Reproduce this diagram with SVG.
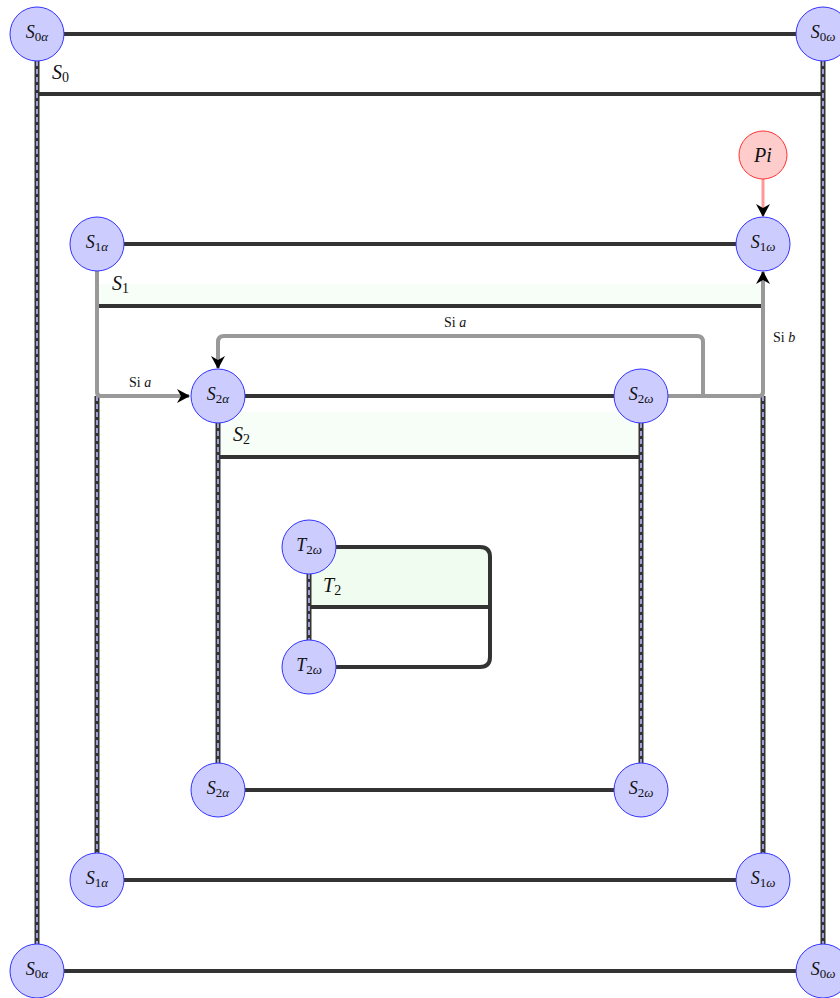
<svg xmlns="http://www.w3.org/2000/svg" width="840" height="998" viewBox="0 0 840 998">
<style>
text{font-family:"Liberation Serif","DejaVu Serif","Times New Roman",serif;fill:#111}
.node{fill:#ccccff;stroke:#3333ff;stroke-width:1}
.pi{fill:#ffcccc;stroke:#ff3333;stroke-width:1}
.lbl{font-size:18px}
.big{font-size:20px}
.small{font-size:14px}
.it{font-style:italic}
.dark{stroke:#333;stroke-width:4;fill:none}
.gray{stroke:#999;stroke-width:4;fill:none}
.dbo{stroke:#333;stroke-width:5;fill:none}
.dbi{stroke:#bbbbff;stroke-width:1.6;stroke-dasharray:5 3;fill:none}
.green{fill:#f7fdf7}
</style>
<defs>
<marker id="arr" viewBox="0 0 14 14" refX="12" refY="7" markerWidth="14" markerHeight="14" markerUnits="userSpaceOnUse" orient="auto">
<path d="M0,0 L13,7 L0,14 L4,7 Z" fill="#000"/>
</marker>
</defs>
<rect width="840" height="998" fill="#fff"/>
<g id="fills">
<rect class="green" x="99" y="284" width="662" height="21"/>
<rect class="green" x="220" y="412" width="419" height="44"/>
<rect fill="#f0fcf0" x="311" y="549" width="177" height="57"/>
</g>
<g id="connectors">
<line class="dark" x1="64" y1="34" x2="796" y2="34"/>
<line class="dark" x1="37" y1="94" x2="823" y2="94"/>
<line class="dark" x1="64" y1="971" x2="796" y2="971"/>
<line class="dbo" x1="37" y1="61" x2="37" y2="944"/>
<line class="dbi" x1="37" y1="61" x2="37" y2="944"/>
<line class="dbo" x1="823" y1="61" x2="823" y2="944"/>
<line class="dbi" x1="823" y1="61" x2="823" y2="944"/>
<line class="dark" x1="124" y1="244" x2="736" y2="244"/>
<line class="dark" x1="97" y1="306" x2="763" y2="306"/>
<line class="dark" x1="124" y1="880" x2="736" y2="880"/>
<line class="dbo" x1="97" y1="396" x2="97" y2="853"/>
<line class="dbi" x1="97" y1="396" x2="97" y2="853"/>
<line class="dbo" x1="763" y1="396" x2="763" y2="853"/>
<line class="dbi" x1="763" y1="396" x2="763" y2="853"/>
<line class="dark" x1="245" y1="396" x2="614" y2="396"/>
<line class="dark" x1="218" y1="457" x2="641" y2="457"/>
<line class="dark" x1="245" y1="790" x2="614" y2="790"/>
<line class="dbo" x1="218" y1="423" x2="218" y2="763"/>
<line class="dbi" x1="218" y1="423" x2="218" y2="763"/>
<line class="dbo" x1="641" y1="423" x2="641" y2="763"/>
<line class="dbi" x1="641" y1="423" x2="641" y2="763"/>
<path class="dark" d="M336,547 H480 Q490,547 490,557 V657 Q490,667 480,667 H336"/>
<line class="dark" x1="309" y1="607" x2="490" y2="607"/>
<line class="dbo" x1="309" y1="574" x2="309" y2="640"/>
<line class="dbi" x1="309" y1="574" x2="309" y2="640"/>
<path class="gray" d="M97,271 V392 Q97,396 101,396 H189" marker-end="url(#arr)"/>
<path class="gray" d="M668,396 H759 Q763,396 763,392 V272" marker-end="url(#arr)"/>
<path class="gray" d="M703,396 V342 Q703,336 697,336 H224 Q218,336 218,342 V368" marker-end="url(#arr)"/>
<line x1="763" y1="179" x2="763" y2="216" stroke="#ff9999" stroke-width="3" marker-end="url(#arr)"/>
<text class="small" x="129" y="387">Si <tspan class="it">a</tspan></text>
<text class="small" x="444" y="327">Si <tspan class="it">a</tspan></text>
<text class="small" x="773" y="342">Si <tspan class="it">b</tspan></text>
</g>
<g id="labels">
<text class="big" x="52" y="79"><tspan class="it">S</tspan><tspan font-size="14" dy="3">0</tspan></text>
<text class="big" x="112" y="290"><tspan class="it">S</tspan><tspan font-size="14" dy="3">1</tspan></text>
<text class="big" x="233" y="441"><tspan class="it">S</tspan><tspan font-size="14" dy="3">2</tspan></text>
<text class="big" x="323" y="592"><tspan class="it">T</tspan><tspan font-size="14" dy="3">2</tspan></text>
</g>
<g id="S0a_top"><circle class="node" cx="37" cy="34" r="27"/><text class="lbl" x="37" y="38" text-anchor="middle"><tspan class="it">S</tspan><tspan font-size="13" dy="3">0</tspan><tspan font-size="13" class="it">α</tspan></text></g>
<g id="S0w_top"><circle class="node" cx="823" cy="34" r="27"/><text class="lbl" x="823" y="38" text-anchor="middle"><tspan class="it">S</tspan><tspan font-size="13" dy="3">0</tspan><tspan font-size="13" class="it">ω</tspan></text></g>
<g id="S0a_bot"><circle class="node" cx="37" cy="971" r="27"/><text class="lbl" x="37" y="975" text-anchor="middle"><tspan class="it">S</tspan><tspan font-size="13" dy="3">0</tspan><tspan font-size="13" class="it">α</tspan></text></g>
<g id="S0w_bot"><circle class="node" cx="823" cy="971" r="27"/><text class="lbl" x="823" y="975" text-anchor="middle"><tspan class="it">S</tspan><tspan font-size="13" dy="3">0</tspan><tspan font-size="13" class="it">ω</tspan></text></g>
<g id="Pi"><circle class="pi" cx="763" cy="155" r="24"/><text class="big it" x="763" y="162" text-anchor="middle">Pi</text></g>
<g id="S1a_top"><circle class="node" cx="97" cy="244" r="27"/><text class="lbl" x="97" y="248" text-anchor="middle"><tspan class="it">S</tspan><tspan font-size="13" dy="3">1</tspan><tspan font-size="13" class="it">α</tspan></text></g>
<g id="S1w_top"><circle class="node" cx="763" cy="244" r="27"/><text class="lbl" x="763" y="248" text-anchor="middle"><tspan class="it">S</tspan><tspan font-size="13" dy="3">1</tspan><tspan font-size="13" class="it">ω</tspan></text></g>
<g id="S1a_bot"><circle class="node" cx="97" cy="880" r="27"/><text class="lbl" x="97" y="884" text-anchor="middle"><tspan class="it">S</tspan><tspan font-size="13" dy="3">1</tspan><tspan font-size="13" class="it">α</tspan></text></g>
<g id="S1w_bot"><circle class="node" cx="763" cy="880" r="27"/><text class="lbl" x="763" y="884" text-anchor="middle"><tspan class="it">S</tspan><tspan font-size="13" dy="3">1</tspan><tspan font-size="13" class="it">ω</tspan></text></g>
<g id="S2a_top"><circle class="node" cx="218" cy="396" r="27"/><text class="lbl" x="218" y="400" text-anchor="middle"><tspan class="it">S</tspan><tspan font-size="13" dy="3">2</tspan><tspan font-size="13" class="it">α</tspan></text></g>
<g id="S2w_top"><circle class="node" cx="641" cy="396" r="27"/><text class="lbl" x="641" y="400" text-anchor="middle"><tspan class="it">S</tspan><tspan font-size="13" dy="3">2</tspan><tspan font-size="13" class="it">ω</tspan></text></g>
<g id="S2a_bot"><circle class="node" cx="218" cy="790" r="27"/><text class="lbl" x="218" y="794" text-anchor="middle"><tspan class="it">S</tspan><tspan font-size="13" dy="3">2</tspan><tspan font-size="13" class="it">α</tspan></text></g>
<g id="S2w_bot"><circle class="node" cx="641" cy="790" r="27"/><text class="lbl" x="641" y="794" text-anchor="middle"><tspan class="it">S</tspan><tspan font-size="13" dy="3">2</tspan><tspan font-size="13" class="it">ω</tspan></text></g>
<g id="T2w_top"><circle class="node" cx="309" cy="547" r="27"/><text class="lbl" x="309" y="551" text-anchor="middle"><tspan class="it">T</tspan><tspan font-size="13" dy="3">2</tspan><tspan font-size="13" class="it">ω</tspan></text></g>
<g id="T2w_bot"><circle class="node" cx="309" cy="667" r="27"/><text class="lbl" x="309" y="671" text-anchor="middle"><tspan class="it">T</tspan><tspan font-size="13" dy="3">2</tspan><tspan font-size="13" class="it">ω</tspan></text></g>
</svg>
